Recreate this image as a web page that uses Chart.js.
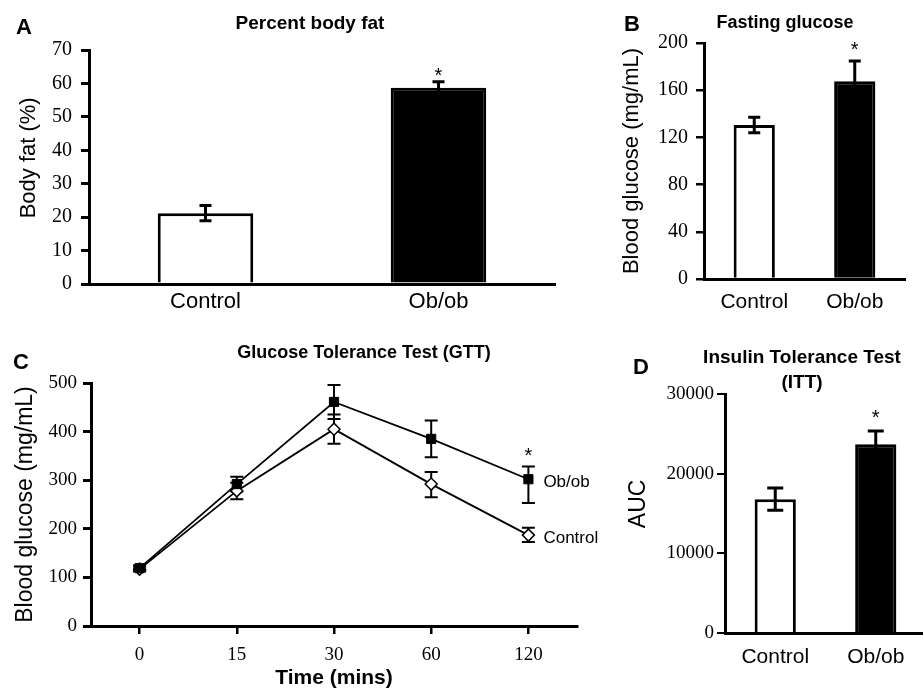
<!DOCTYPE html>
<html>
<head>
<meta charset="utf-8">
<script src="https://cdn.jsdelivr.net/npm/chart.js@4.4.1/dist/chart.umd.min.js"></script>
<style>
  body { margin: 0; width: 923px; height: 691px; overflow: hidden; background: #fff; position: relative;
         font-family: 'Liberation Sans', Arial, sans-serif; color: #000; }
  canvas { position: absolute; }
  .lbl { position: absolute; font-weight: bold; line-height: 1; white-space: nowrap; transform: translate(-50%, -50%); }
</style>
</head>
<body>
<canvas id="cA" width="580" height="318" style="left:0;top:0"></canvas>
<canvas id="cB" width="333" height="330" style="left:590px;top:0"></canvas>
<canvas id="cC" width="620" height="371" style="left:0;top:320px"></canvas>
<canvas id="cD" width="330" height="361" style="left:600px;top:330px"></canvas>

<div class="lbl" style="left:24px;top:27px;font-size:22px">A</div>
<div class="lbl" style="left:310px;top:22px;font-size:19px">Percent body fat</div>
<div class="lbl" style="left:632px;top:24px;font-size:22px">B</div>
<div class="lbl" style="left:785px;top:22px;font-size:18px">Fasting glucose</div>
<div class="lbl" style="left:21px;top:362px;font-size:22px">C</div>
<div class="lbl" style="left:364px;top:352px;font-size:18px">Glucose Tolerance Test (GTT)</div>
<div class="lbl" style="left:641px;top:367px;font-size:22px">D</div>
<div class="lbl" style="left:802px;top:369px;font-size:19px;text-align:center;line-height:25px">Insulin Tolerance Test<br>(ITT)</div>

<script>
// groups used by the bar panels
const groups = ['Control', 'Ob/ob'];

// A: percent body fat
const bodyFat = [21.2, 58.7];
const bodyFatErr = [2.3, 1.8];
const bodyFatStars = [false, true];

// B: fasting glucose
const fastGlucose = [130.5, 167.5];
const fastGlucoseErr = [6.5, 17.2];
const fastGlucoseStars = [false, true];

// C: glucose tolerance test
const gttTimes = ['0', '15', '30', '60', '120'];
const gttOb = [119, 292, 461, 385, 302];
const gttObUp = [6, 15, 35, 38, 26];
const gttObDown = [6, 15, 35, 38, 49];
const gttObStars = [false, false, false, false, true];
const gttCtl = [117, 278, 405, 292, 187];
const gttCtlUp = [5, 17, 30, 25, 15];
const gttCtlDown = [5, 17, 30, 27, 14];

// D: insulin tolerance test
const ittAuc = [16800, 23700];
const ittErr = [1400, 1650];
const ittStars = [false, true];

const sans = "'Liberation Sans', Arial, sans-serif";
const serif = "'Liberation Serif', 'Times New Roman', serif";
const nbsp3 = '\u00a0\u00a0\u00a0';

const errorBars = {
  id: 'errorBars',
  beforeDatasetsDraw(chart, args, opts) { if (opts.under) drawErrors(chart, opts); },
  afterDatasetsDraw(chart, args, opts) { if (!opts.under) drawErrors(chart, opts); }
};

function drawErrors(chart, opts) {
  const ctx = chart.ctx;
  const ys = chart.scales.y;
  chart.data.datasets.forEach((ds, i) => {
    const meta = chart.getDatasetMeta(i);
    meta.data.forEach((el, j) => {
      const v = ds.data[j];
      const x = el.x;
      const top = ys.getPixelForValue(v + ds.up[j]);
      const bot = ys.getPixelForValue(v - ds.down[j]);
      ctx.save();
      ctx.strokeStyle = '#000';
      ctx.lineWidth = opts.width;
      ctx.beginPath();
      ctx.moveTo(x, top); ctx.lineTo(x, bot);
      ctx.moveTo(x - opts.cap, top); ctx.lineTo(x + opts.cap, top);
      ctx.moveTo(x - opts.cap, bot); ctx.lineTo(x + opts.cap, bot);
      ctx.stroke();
      if (ds.stars && ds.stars[j]) {
        ctx.fillStyle = '#000';
        ctx.font = '20px ' + sans;
        ctx.textAlign = 'center';
        ctx.textBaseline = 'alphabetic';
        ctx.fillText('*', x, top - opts.starGap + 11);
      }
      ctx.restore();
    });
  });
}

const endLabels = {
  id: 'endLabels',
  afterDatasetsDraw(chart) {
    const ctx = chart.ctx;
    chart.data.datasets.forEach((ds, i) => {
      const pts = chart.getDatasetMeta(i).data;
      const last = pts[pts.length - 1];
      ctx.save();
      ctx.fillStyle = '#000';
      ctx.font = '17px ' + sans;
      ctx.textAlign = 'left';
      ctx.textBaseline = 'middle';
      ctx.fillText(ds.label, last.x + 15, last.y + 3);
      ctx.restore();
    });
  }
};

function barPanel(id, o) {
  return new Chart(document.getElementById(id), {
    type: 'bar',
    data: {
      labels: groups,
      datasets: [{
        data: o.values, up: o.err, down: o.err, stars: o.stars,
        backgroundColor: ['#fff', '#000'], borderColor: '#000', borderWidth: 3,
        barPercentage: 0.41, categoryPercentage: 1
      }]
    },
    options: {
      responsive: false, animation: false,
      layout: { padding: { top: o.top, right: o.right, left: 0, bottom: 0 } },
      plugins: {
        legend: { display: false }, tooltip: { enabled: false },
        errorBars: { width: 3, cap: o.cap, starGap: o.starGap }
      },
      scales: {
        x: {
          grid: { display: false },
          border: { display: true, color: '#000', width: 3 },
          ticks: { color: '#000', font: { family: sans, size: o.xFont }, padding: o.xPad },
          afterFit: s => { s.height = o.bottomH; }
        },
        y: {
          min: 0, max: o.max,
          ticks: { stepSize: o.step, color: '#000', font: { family: serif, size: o.yFont }, padding: o.yPad,
                   callback: v => String(v) },
          grid: { drawOnChartArea: false, color: '#000', lineWidth: o.tickW, tickLength: o.tl },
          border: { color: '#000', width: 3 },
          title: { display: true, text: o.title, color: '#000', font: { family: sans, size: o.titleSize }, padding: { top: o.titlePad } },
          afterFit: s => { s.width = o.left; }
        }
      }
    },
    plugins: [errorBars]
  });
}

barPanel('cA', {
  values: bodyFat, err: bodyFatErr, stars: bodyFatStars,
  top: 50, right: 25, left: 89, bottomH: 34, max: 70, step: 10,
  xFont: 22, xPad: -3, yFont: 20, yPad: 9, tl: 8, tickW: 3,
  title: nbsp3 + 'Body fat (%)', titleSize: 22, titlePad: 16, cap: 6, starGap: 11
});

barPanel('cB', {
  values: fastGlucose, err: fastGlucoseErr, stars: fastGlucoseStars,
  top: 43, right: 18, left: 114, bottomH: 51, max: 200, step: 40,
  xFont: 21, xPad: 3, yFont: 20, yPad: 8, tl: 8, tickW: 2.5,
  title: 'Blood glucose (mg/mL)', titleSize: 22, titlePad: 29, cap: 6, starGap: 16
});

barPanel('cD', {
  values: ittAuc, err: ittErr, stars: ittStars,
  top: 64, right: 4, left: 125, bottomH: 58, max: 30000, step: 10000,
  xFont: 21, xPad: 4, yFont: 19, yPad: 3, tl: 8, tickW: 2,
  title: nbsp3 + 'AUC', titleSize: 23, titlePad: 25, cap: 8, starGap: 18
});

new Chart(document.getElementById('cC'), {
  type: 'line',
  data: {
    labels: gttTimes,
    datasets: [
      {
        label: 'Ob/ob', data: gttOb, up: gttObUp, down: gttObDown, stars: gttObStars,
        borderColor: '#000', borderWidth: 1.8, tension: 0, fill: false,
        pointStyle: 'rect', pointRadius: 6.5, pointBackgroundColor: '#000', pointBorderColor: '#000', pointBorderWidth: 1
      },
      {
        label: 'Control', data: gttCtl, up: gttCtlUp, down: gttCtlDown,
        borderColor: '#000', borderWidth: 1.8, tension: 0, fill: false,
        pointStyle: 'rectRot', pointRadius: 6, pointBackgroundColor: '#fff', pointBorderColor: '#000', pointBorderWidth: 1.5
      }
    ]
  },
  options: {
    responsive: false, animation: false,
    layout: { padding: { top: 63, right: 43, left: 0, bottom: 0 } },
    plugins: {
      legend: { display: false }, tooltip: { enabled: false },
      errorBars: { under: true, width: 2, cap: 6.5, starGap: 16 }
    },
    scales: {
      x: {
        offset: true,
        grid: { display: true, drawOnChartArea: false, drawTicks: true, tickLength: 8, color: '#000', lineWidth: 2.5, offset: false },
        border: { display: true, color: '#000', width: 3 },
        ticks: { color: '#000', font: { family: serif, size: 19 }, padding: 10 },
        title: { display: true, text: 'Time (mins)', color: '#000', font: { family: sans, size: 21, weight: 'bold' }, padding: { top: 0, bottom: 0 } },
        afterFit: s => { s.height = 65; }
      },
      y: {
        min: 0, max: 500,
        ticks: { stepSize: 100, color: '#000', font: { family: serif, size: 19 }, padding: 6 },
        grid: { drawOnChartArea: false, color: '#000', lineWidth: 3, tickLength: 8 },
        border: { color: '#000', width: 3 },
        title: { display: true, text: 'Blood glucose (mg/mL)', color: '#000', font: { family: sans, size: 23 }, padding: { top: 12 } },
        afterFit: s => { s.width = 91; }
      }
    }
  },
  plugins: [errorBars, endLabels]
});
</script>
</body>
</html>
